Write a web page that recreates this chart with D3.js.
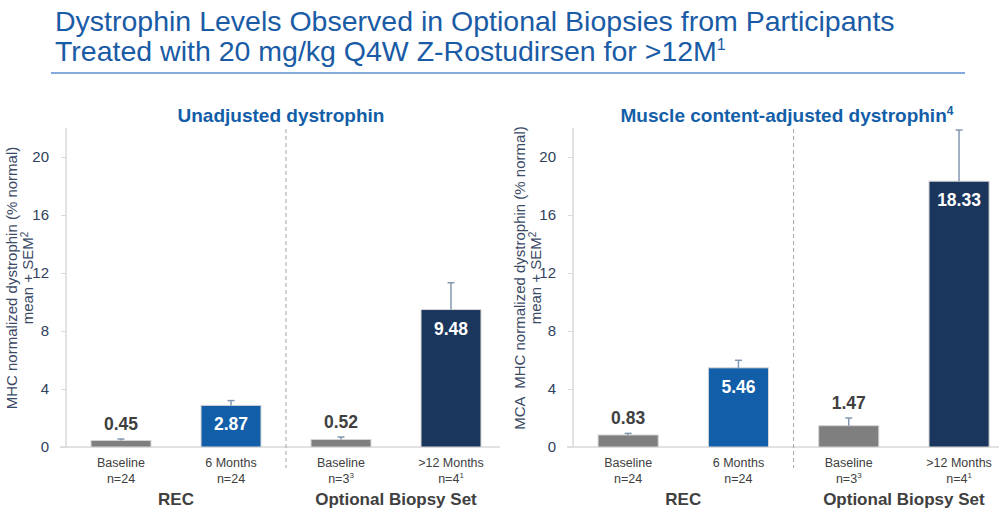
<!DOCTYPE html>
<html lang="en">
<head>
<meta charset="utf-8">
<script src="https://cdn.jsdelivr.net/npm/d3@7"></script>
<style>
  body { margin: 0; background: #fff; }
  svg { display: block; font-family: "Liberation Sans", Arial, sans-serif; }
</style>
</head>
<body>
<svg width="999" height="509"></svg>
<script>
  // data
  var categories = ["Baseline", "6 Months", "Baseline", ">12 Months"];
  var nLabels = ["n=24", "n=24", "n=3", "n=4"];
  var nSup = ["", "", "3", "1"];
  var groups = ["REC", "Optional Biopsy Set"];
  var unadjusted = [0.45, 2.87, 0.52, 9.48];
  var unadjustedSem = [0.10, 0.33, 0.17, 1.85];
  var adjusted = [0.83, 5.46, 1.47, 18.33];
  var adjustedSem = [0.11, 0.52, 0.53, 3.53];
  var yTicks = [0, 4, 8, 12, 16, 20];

  var barColors = ["#7f7f7f", "#135ea8", "#7f7f7f", "#1b365d"];
  var insideLabel = [false, true, false, true];

  var svg = d3.select("svg");

  // title
  svg.append("text")
    .attr("x", 55)
    .attr("y", 31)
    .attr("fill", "#1a5ba6")
    .style("font-size", "28.5px")
    .text("Dystrophin Levels Observed in Optional Biopsies from Participants");
  var t2 = svg.append("text")
    .attr("x", 55)
    .attr("y", 61)
    .attr("fill", "#1a5ba6")
    .style("font-size", "28.5px");
  t2.append("tspan").text("Treated with 20 mg/kg Q4W Z-Rostudirsen for >12M");
  t2.append("tspan").attr("dy", -11).style("font-size", "16px").text("1");

  svg.append("line")
    .attr("x1", 51).attr("x2", 965)
    .attr("y1", 73).attr("y2", 73)
    .attr("stroke", "#5b8fd0")
    .attr("stroke-width", 1.5);

  var y = d3.scaleLinear().domain([0, 22]).range([447, 128]);

  function panel(opts) {
    var g = svg.append("g");
    var x = d3.scaleBand()
      .domain(d3.range(categories.length))
      .range([opts.axisX, opts.axisX + 4 * opts.step])
      .paddingInner(0.455)
      .paddingOuter(0.2275);

    // panel title
    var pt = g.append("text")
      .attr("x", opts.titleX)
      .attr("y", 122)
      .attr("text-anchor", "middle")
      .attr("fill", "#135ea8")
      .attr("font-weight", "bold")
      .style("font-size", "19px");
    pt.append("tspan").text(opts.title);
    if (opts.titleSup) {
      pt.append("tspan").attr("dy", -7).style("font-size", "12px").text(opts.titleSup);
    }

    // y axis
    var yAxis = d3.axisLeft(y).tickValues(yTicks).tickSize(5).tickPadding(12);
    var ya = g.append("g")
      .attr("transform", "translate(" + opts.axisX + ",0)")
      .call(yAxis);
    ya.select(".domain").remove();
    ya.append("line")
      .attr("y1", y(0)).attr("y2", y(22))
      .attr("stroke", "#d9d9d9").attr("stroke-width", 1.5);
    ya.selectAll(".tick line").attr("stroke", "#d9d9d9");
    ya.selectAll(".tick text")
      .attr("fill", "#2f3f5c")
      .style("font-size", "15px")
      .style("font-family", "'Liberation Sans', Arial, sans-serif");

    // y label
    var yl = g.append("text")
      .attr("transform", "translate(" + opts.labelX + "," + opts.labelY + ") rotate(-90)")
      .attr("text-anchor", "middle")
      .attr("fill", "#3b4a66")
      .style("font-size", "15px")
      .style("white-space", "pre");
    yl.append("tspan").attr("x", 0).attr("dy", 0).text(opts.yLabel);
    var l2 = yl.append("tspan").attr("x", 0).attr("dy", 16);
    l2.append("tspan").text("mean + SEM");
    l2.append("tspan").attr("dy", -5).style("font-size", "10px").text("2");

    // x baseline
    g.append("line")
      .attr("x1", opts.axisX - 6).attr("x2", opts.xEnd)
      .attr("y1", y(0)).attr("y2", y(0))
      .attr("stroke", "#d9d9d9").attr("stroke-width", 1.5);

    // divider between groups
    var divX = (x(1) + x(2) + x.bandwidth()) / 2;
    g.append("line")
      .attr("x1", divX).attr("x2", divX)
      .attr("y1", 129).attr("y2", 468)
      .attr("stroke", "#a6a6a6")
      .attr("stroke-dasharray", "4,3");

    var vals = opts.values, sem = opts.sem;

    // bars
    g.selectAll("rect.bar")
      .data(vals)
      .enter()
      .append("rect")
      .attr("class", "bar")
      .attr("x", function (d, i) { return x(i); })
      .attr("y", function (d) { return y(d); })
      .attr("width", x.bandwidth())
      .attr("height", function (d) { return y(0) - y(d); })
      .attr("fill", function (d, i) { return barColors[i]; })
      .attr("stroke", "#d6d6d6")
      .attr("stroke-width", 1);

    // error bars (upper only)
    var eb = g.selectAll("g.err")
      .data(vals)
      .enter()
      .append("g")
      .attr("class", "err");
    eb.append("line")
      .attr("x1", function (d, i) { return x(i) + x.bandwidth() / 2; })
      .attr("x2", function (d, i) { return x(i) + x.bandwidth() / 2; })
      .attr("y1", function (d) { return y(d); })
      .attr("y2", function (d, i) { return y(d + sem[i]); })
      .attr("stroke", "#8497b0")
      .attr("stroke-width", 1.5);
    eb.append("line")
      .attr("x1", function (d, i) { return x(i) + x.bandwidth() / 2 - 3.5; })
      .attr("x2", function (d, i) { return x(i) + x.bandwidth() / 2 + 3.5; })
      .attr("y1", function (d, i) { return y(d + sem[i]); })
      .attr("y2", function (d, i) { return y(d + sem[i]); })
      .attr("stroke", "#8497b0")
      .attr("stroke-width", 1.5);

    // value labels
    g.selectAll("text.val")
      .data(vals)
      .enter()
      .append("text")
      .attr("class", "val")
      .attr("x", function (d, i) { return x(i) + x.bandwidth() / 2; })
      .attr("y", function (d, i) {
        return insideLabel[i] ? y(d) + 25 : y(d + sem[i]) - 9;
      })
      .attr("text-anchor", "middle")
      .attr("font-weight", "bold")
      .attr("fill", function (d, i) { return insideLabel[i] ? "#ffffff" : "#404040"; })
      .style("font-size", "17.5px")
      .text(function (d) { return d.toFixed(2); });

    // category labels
    categories.forEach(function (c, i) {
      var cx = x(i) + x.bandwidth() / 2;
      g.append("text")
        .attr("x", cx).attr("y", 467)
        .attr("text-anchor", "middle")
        .attr("fill", "#404040")
        .style("font-size", "12.5px")
        .text(c);
      var nt = g.append("text")
        .attr("x", cx).attr("y", 483)
        .attr("text-anchor", "middle")
        .attr("fill", "#404040")
        .style("font-size", "12.5px");
      nt.append("tspan").text(nLabels[i]);
      if (nSup[i]) {
        nt.append("tspan").attr("dy", -5).style("font-size", "8px").text(nSup[i]);
      }
    });

    // group labels
    groups.forEach(function (gr, k) {
      var gx = (x(2 * k) + x(2 * k + 1) + x.bandwidth()) / 2;
      g.append("text")
        .attr("x", gx).attr("y", 505)
        .attr("text-anchor", "middle")
        .attr("font-weight", "bold")
        .attr("fill", "#404040")
        .style("font-size", "17px")
        .text(gr);
    });
  }

  panel({
    axisX: 66, step: 110, xEnd: 500,
    title: "Unadjusted dystrophin", titleX: 281,
    yLabel: "MHC normalized dystrophin (% normal)", labelX: 17, labelY: 278,
    values: unadjusted, sem: unadjustedSem
  });

  panel({
    axisX: 573, step: 110.3, xEnd: 999,
    title: "Muscle content-adjusted dystrophin", titleSup: "4", titleX: 787,
    yLabel: "MCA  MHC normalized dystrophin (% normal)", labelX: 525, labelY: 278,
    values: adjusted, sem: adjustedSem
  });
</script>
</body>
</html>
